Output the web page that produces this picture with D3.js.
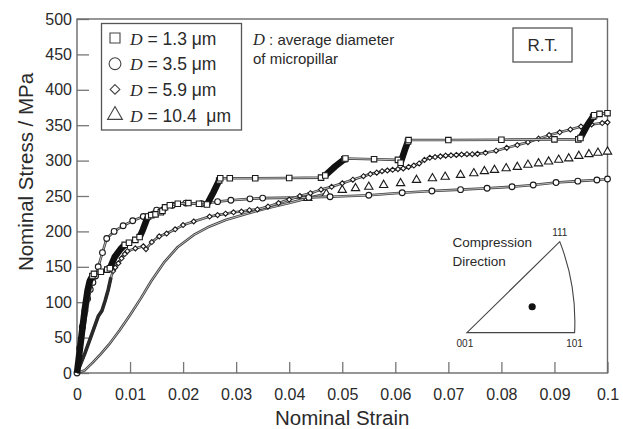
<!DOCTYPE html>
<html><head><meta charset="utf-8">
<script src="https://cdn.jsdelivr.net/npm/d3@7"></script>
<style>body{margin:0;background:#fff;} svg{display:block;font-family:"Liberation Sans",Arial,sans-serif;}</style>
</head><body><svg id="c" width="623" height="429"></svg>
<script>
// ---- data ----
const xTicks = [0,0.01,0.02,0.03,0.04,0.05,0.06,0.07,0.08,0.09,0.1];
const yTicks = [0,50,100,150,200,250,300,350,400,450,500];
const diameters = ["1.3","3.5","5.9","10.4"];

// D = 1.3 um (squares)
const squareData = [[0,0],[0.0029,137],[0.0032,140],
 [0.0045,143],[0.0057,146],[0.0062,148],[0.009,181],[0.0098,184],[0.011,188],
 [0.0118,192],[0.0134,221],[0.014,223],[0.0148,224],[0.0158,227],[0.0161,229],[0.0166,234],[0.0175,237],[0.019,239],[0.021,240],[0.023,239],
 [0.0245,238],[0.0268,272],[0.027,275],[0.0288,275],[0.0336,275],[0.04,275.5],[0.046,276],
 [0.0468,279],[0.0504,302],[0.0506,303],[0.056,302],[0.0605,301],
 [0.061,297],[0.0624,327],[0.0625,329],[0.07,329],[0.08,329.5],[0.09,330],[0.0945,330],
 [0.0949,332],[0.0973,362],[0.0975,364],[0.0985,366],[0.1,367]];
// dense-marker bursts of the D = 1.3 um curve (appear as solid dark bands)
const squareBursts = [
 [[0,0],[0.0005,31],[0.001,62],[0.0015,92],[0.002,117],[0.0024,130],[0.0029,137]],
 [[0.0062,148],[0.0071,164],[0.0082,175],[0.009,181]],
 [[0.0118,192],[0.0124,202],[0.013,214],[0.0134,221]],
 [[0.0161,229],[0.0166,234]],
 [[0.0245,238],[0.0257,255],[0.0268,272]],
 [[0.0468,279],[0.0487,292],[0.0504,302]],
 [[0.061,297],[0.0618,315],[0.0624,327]],
 [[0.0949,332],[0.0962,350],[0.0973,362]]
];

// D = 3.5 um (circles)
const circleData = [[0,0],[0.0005,35],[0.001,65],[0.0015,88],[0.002,105],[0.0025,118],[0.003,128],[0.0035,137],[0.004,150],[0.0048,170],[0.0056,190],[0.007,200],[0.0087,208],[0.0105,215],[0.0125,221],[0.015,230],[0.018,237],[0.0205,240],[0.0235,239],[0.0265,242],[0.029,244],[0.0326,246],[0.035,247],[0.0437,248],[0.0477,249],[0.055,251],[0.0613,254.6],[0.0669,257],[0.0723,259],[0.0773,261],[0.082,263],[0.086,265.5],[0.0903,269],[0.0944,271],[0.098,272.6],[0.1,274]];

// D = 5.9 um (diamonds)
const diamondData = [[0,0],[0.0015,28],[0.0028,55],[0.004,80],[0.0047,88],[0.0053,102],[0.0059,118],[0.0064,135],[0.0068,144],[0.0072,149],[0.0078,155],[0.0084,162],[0.009,168],[0.0095,172],[0.011,176],[0.0125,179],[0.013,175],[0.0141,185],[0.0155,193],[0.0169,197],[0.0185,203],[0.02,209],[0.022,214],
 [0.025,221],[0.0265,223],[0.028,225],[0.0295,227],[0.031,228],[0.0325,230],[0.034,231],[0.036,235],[0.038,240],[0.04,245],[0.042,250],[0.044,254],[0.046,259],[0.048,263],[0.05,268],[0.052,273],[0.054,278],[0.0553,281],[0.0565,283],[0.0575,285],[0.0585,286],[0.0595,287],[0.0605,288],[0.0615,289],[0.0625,291],[0.0635,293],[0.0645,296],[0.0655,301],[0.0665,304],[0.0675,305],[0.0685,306],[0.0695,307],[0.0705,307.5],[0.0715,308],[0.0725,308.5],[0.0735,309],[0.0745,309],[0.0755,309.5],[0.077,311],[0.079,314],[0.081,318],[0.083,322],[0.085,326],[0.087,331],[0.089,336],[0.091,340],[0.093,344],[0.095,348],[0.097,351],[0.099,353],[0.1,354]];
const diamondBursts = [
 [[0,0],[0.0015,28],[0.0028,55],[0.004,80],[0.0047,88],[0.0053,102],[0.0059,118],[0.0064,135]]
];

// D = 10.4 um (triangles): curve part and marker part
const triangleLine = [[0,0],[0.0015,4],[0.003,15],[0.0045,27],[0.006,40],[0.008,60],[0.01,82],[0.012,105],[0.014,130],[0.0165,157],[0.019,178],[0.022,195],[0.025,207],[0.028,216],[0.032,225],[0.036,233],[0.04,240],[0.0435,247],[0.047,253]];
const triangleMarks = [[0.0435,247],[0.047,253],[0.05,258.5],[0.0525,261],[0.055,263],[0.0578,265.5],[0.061,268],[0.064,272.6],[0.067,275],[0.0694,277],[0.0723,279.7],[0.0748,282],[0.0768,285],[0.0787,286.7],[0.0809,289],[0.083,291],[0.085,294],[0.087,296],[0.0889,298.5],[0.0908,301],[0.0927,303],[0.0946,306.5],[0.0965,309],[0.0982,311],[0.1,312.6]];

// inset (stereographic triangle) in data coordinates
const insetPole = {p001:[0.0735,57], p101:[0.0938,57], p111:[0.091,185.5], dot:[0.0858,93.6]};

// ---- drawing ----
const svg = d3.select("#c");
const x = d3.scaleLinear().domain([0,0.1]).range([77,607.5]);
const y = d3.scaleLinear().domain([0,500]).range([373,19]);
const ink = "#2a2a2a";

// axes
const yAx = svg.append("g").attr("transform",`translate(${x(0)},0)`)
  .call(d3.axisLeft(y).tickValues(yTicks).tickSizeInner(-12).tickSizeOuter(0).tickPadding(5).tickFormat(d3.format("d")));
const xAx = svg.append("g").attr("transform",`translate(0,${y(0)})`)
  .call(d3.axisBottom(x).tickValues(xTicks).tickSizeInner(-11).tickSizeOuter(0).tickPadding(16)
    .tickFormat(d => d===0 ? "0" : d3.format("~g")(d)));
[yAx,xAx].forEach(a=>{
  a.select(".domain").remove();
  a.selectAll("line").attr("stroke","#777").attr("stroke-width",1.3);
  a.selectAll("text").attr("font-size",16).attr("fill",ink).attr("font-family","Liberation Sans, Arial, sans-serif");
});
svg.append("rect").attr("x",x(0)).attr("y",y(500)).attr("width",x(0.1)-x(0)).attr("height",y(0)-y(500))
  .attr("fill","none").attr("stroke","#6a6a6a").attr("stroke-width",1.4);

// axis titles
svg.append("text").attr("x",(x(0)+x(0.1))/2).attr("y",425).attr("text-anchor","middle")
  .attr("font-size",20.5).attr("fill",ink).text("Nominal Strain");
svg.append("text").attr("transform",`translate(33,172) rotate(-90)`).attr("text-anchor","middle")
  .attr("font-size",20.5).attr("fill",ink).text("Nominal Stress / MPa");

// curves
const line = d3.line().x(d=>x(d[0])).y(d=>y(d[1]));
function drawLine(data){
  svg.append("path").datum(data).attr("d",line).attr("fill","none").attr("stroke","#444").attr("stroke-width",2.6).attr("stroke-linejoin","round");
  svg.append("path").datum(data).attr("d",line).attr("fill","none").attr("stroke","#d8d8d8").attr("stroke-width",0.8).attr("stroke-linejoin","round");
}
function drawBursts(bursts, w, col){
  svg.append("g").selectAll("path").data(bursts).join("path").attr("d",line)
    .attr("fill","none").attr("stroke",col).attr("stroke-width",w).attr("stroke-linejoin","round").attr("stroke-linecap","butt");
}
function drawMarks(data, type, size){
  svg.append("g").selectAll("path").data(data).join("path")
    .attr("transform",d=>`translate(${x(d[0])},${y(d[1])})`)
    .attr("d",d3.symbol().type(type).size(size))
    .attr("fill","#fff").attr("stroke","#1a1a1a").attr("stroke-width",1.1);
}
drawLine(triangleLine);
drawMarks(triangleMarks, d3.symbolTriangle, 30);
drawLine(circleData);
drawMarks(circleData, d3.symbolCircle, 26);
drawLine(diamondData);
drawBursts(diamondBursts, 3.6, "#2a2a2a");
drawMarks(diamondData.filter(d => d[0] > 0.0064), d3.symbolDiamond2, 16);
drawLine(squareData);
drawBursts(squareBursts, 6.5, "#111");
drawMarks(squareData.filter(d => d[0] > 0), d3.symbolSquare, 30);

// legend
const lg = svg.append("g");
lg.append("rect").attr("x",101.5).attr("y",23.5).attr("width",140).attr("height",106.5).attr("fill","#fff").attr("stroke","#555").attr("stroke-width",1.3);
const legendTypes = [d3.symbolSquare, d3.symbolCircle, d3.symbolDiamond2, d3.symbolTriangle];
const legendSizes = [100, 110, 60, 95];
diameters.forEach((dv,i)=>{
  const cy = 38 + i*25.7;
  lg.append("path").attr("transform",`translate(115,${cy})`).attr("d",d3.symbol().type(legendTypes[i]).size(legendSizes[i]))
    .attr("fill","#fff").attr("stroke","#444").attr("stroke-width",1.1);
  const t = lg.append("text").attr("x",130).attr("y",cy+6.5).attr("font-size",17.5).attr("fill",ink);
  t.append("tspan").attr("font-family","Liberation Serif, Times New Roman, serif").attr("font-style","italic").text("D");
  t.append("tspan").text(` = ${dv}${dv.length>3?"\u00a0 ":" "}μm`);
});

// D annotation
const an = svg.append("text").attr("x",253).attr("y",45).attr("font-size",15).attr("fill",ink);
an.append("tspan").attr("font-family","Liberation Serif, Times New Roman, serif").attr("font-style","italic").attr("font-size",16.5).text("D");
an.append("tspan").text(" : average diameter");
svg.append("text").attr("x",253).attr("y",64).attr("font-size",15).attr("fill",ink).text("of micropillar");

// R.T. box
svg.append("rect").attr("x",513).attr("y",28).attr("width",59).attr("height",34).attr("fill","#fff").attr("stroke","#555").attr("stroke-width",1.3);
svg.append("text").attr("x",542.5).attr("y",51).attr("text-anchor","middle").attr("font-size",17).attr("fill",ink).text("R.T.");

// inset
const P = k => [x(insetPole[k][0]), y(insetPole[k][1])];
const a = P("p001"), b = P("p101"), c = P("p111"), dt = P("dot");
svg.append("path").attr("d",`M${a[0]},${a[1]} L${b[0]},${b[1]} A220,220 0 0 0 ${c[0]},${c[1]} Z`)
  .attr("fill","none").attr("stroke","#444").attr("stroke-width",1.1);
svg.append("circle").attr("cx",dt[0]).attr("cy",dt[1]).attr("r",3.6).attr("fill","#111");
svg.append("text").attr("x",c[0]).attr("y",c[1]-6).attr("text-anchor","middle").attr("font-size",10).attr("fill",ink).text("111");
svg.append("text").attr("x",a[0]-2).attr("y",a[1]+14).attr("text-anchor","middle").attr("font-size",10).attr("fill",ink).text("001");
svg.append("text").attr("x",b[0]+0).attr("y",b[1]+14).attr("text-anchor","middle").attr("font-size",10).attr("fill",ink).text("101");
svg.append("text").attr("x",452.5).attr("y",247).attr("font-size",13.5).attr("fill",ink).text("Compression");
svg.append("text").attr("x",452.5).attr("y",265.5).attr("font-size",13.5).attr("fill",ink).text("Direction");
</script></body></html>
